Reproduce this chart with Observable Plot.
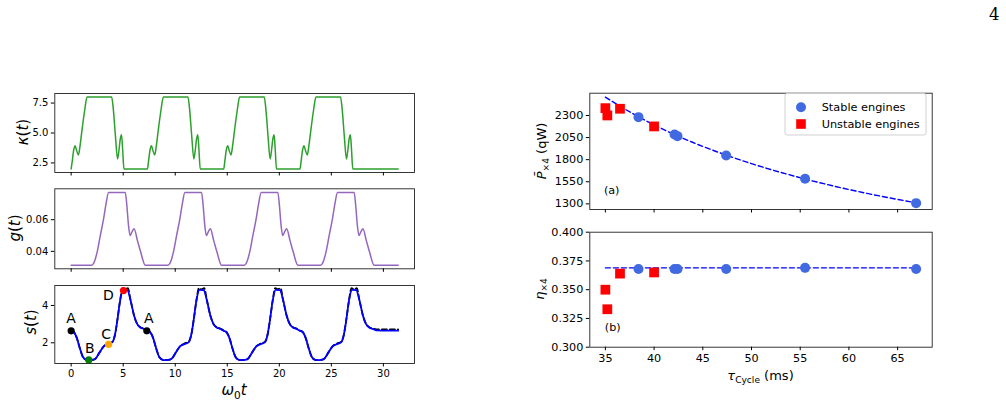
<!DOCTYPE html>
<html>
<head>
<meta charset="utf-8">
<script src="https://cdn.jsdelivr.net/npm/d3@7"></script>
<script src="https://cdn.jsdelivr.net/npm/@observablehq/plot@0.6"></script>
<style>
  body { margin: 0; background: #fff; }
  #fig { position: relative; width: 1006px; height: 404px; overflow: hidden; background: #fff; }
  #fig svg { position: absolute; overflow: visible; }
</style>
</head>
<body>
<div id="fig"></div>
<script>
// ---- control waveforms over four cycles (ω0 t from 0 to 10π) ----
const kappaT = [
  0, 0.10, 0.25, 0.38, 0.52, 0.70, 0.85, 1.05, 1.30, 1.53, 3.89, 4.05, 4.25, 4.46, 4.60, 4.72, 4.84, 4.95, 5.07,
  7.33, 7.43, 7.58, 7.71, 7.85, 8.03, 8.18, 8.38, 8.63, 8.86, 11.22, 11.38, 11.58, 11.79, 11.93, 12.05, 12.17, 12.28, 12.40,
  14.66, 14.76, 14.91, 15.04, 15.18, 15.36, 15.51, 15.71, 15.96, 16.19, 18.55, 18.71, 18.91, 19.12, 19.26, 19.38, 19.50, 19.61, 19.73,
  21.99, 22.09, 22.24, 22.37, 22.51, 22.69, 22.84, 23.04, 23.29, 23.52, 25.88, 26.04, 26.24, 26.45, 26.59, 26.71, 26.83, 26.94, 27.06,
  31.42
];
const kappaV = [
  2.0, 2.6, 3.6, 3.94, 3.55, 3.17, 3.9, 5.3, 6.9, 8.0, 8.0, 7.0, 4.8, 2.83, 3.6, 4.5, 4.86, 3.6, 2.0,
  2.0, 2.6, 3.6, 3.94, 3.55, 3.17, 3.9, 5.3, 6.9, 8.0, 8.0, 7.0, 4.8, 2.83, 3.6, 4.5, 4.86, 3.6, 2.0,
  2.0, 2.6, 3.6, 3.94, 3.55, 3.17, 3.9, 5.3, 6.9, 8.0, 8.0, 7.0, 4.8, 2.83, 3.6, 4.5, 4.86, 3.6, 2.0,
  2.0, 2.6, 3.6, 3.94, 3.55, 3.17, 3.9, 5.3, 6.9, 8.0, 8.0, 7.0, 4.8, 2.83, 3.6, 4.5, 4.86, 3.6, 2.0,
  2.0
];

const gT = [
  0, 1.98, 2.23, 2.49, 2.80, 3.12, 3.35, 3.60, 5.20, 5.35, 5.51, 5.67, 5.86, 6.05, 6.37, 6.69, 7.12,
  9.31, 9.56, 9.82, 10.13, 10.45, 10.68, 10.93, 12.53, 12.68, 12.84, 13.00, 13.19, 13.38, 13.70, 14.02, 14.45,
  16.64, 16.89, 17.15, 17.46, 17.78, 18.01, 18.26, 19.86, 20.01, 20.17, 20.33, 20.52, 20.71, 21.03, 21.35, 21.78,
  23.97, 24.22, 24.48, 24.79, 25.11, 25.34, 25.59, 27.19, 27.34, 27.50, 27.66, 27.85, 28.04, 28.36, 28.68, 29.11,
  31.42
];
const gV = [
  0.0313, 0.0313, 0.0334, 0.0394, 0.0500, 0.0606, 0.0700, 0.0772, 0.0772, 0.0691, 0.0564, 0.0500, 0.0525, 0.0543, 0.0468, 0.0394, 0.0313,
  0.0313, 0.0334, 0.0394, 0.0500, 0.0606, 0.0700, 0.0772, 0.0772, 0.0691, 0.0564, 0.0500, 0.0525, 0.0543, 0.0468, 0.0394, 0.0313,
  0.0313, 0.0334, 0.0394, 0.0500, 0.0606, 0.0700, 0.0772, 0.0772, 0.0691, 0.0564, 0.0500, 0.0525, 0.0543, 0.0468, 0.0394, 0.0313,
  0.0313, 0.0334, 0.0394, 0.0500, 0.0606, 0.0700, 0.0772, 0.0772, 0.0691, 0.0564, 0.0500, 0.0525, 0.0543, 0.0468, 0.0394, 0.0313,
  0.0313
];

// simulated state s(t) (solid) and target state (dashed)
const sT = [
  0, 0.25, 0.55, 0.85, 1.15, 1.45, 1.70, 2.00, 2.30, 2.75, 3.15, 3.55, 3.95, 4.20, 4.45, 4.70, 5.00, 5.40, 5.72, 6.05, 6.35, 6.65, 7.00,
  7.33, 7.58, 7.88, 8.18, 8.48, 8.78, 9.03, 9.33, 9.63, 10.08, 10.48, 10.88, 11.28, 11.53, 11.78, 12.03, 12.33, 12.73, 13.05, 13.38, 13.68, 13.98, 14.33,
  14.66, 14.91, 15.21, 15.51, 15.81, 16.11, 16.36, 16.66, 16.96, 17.41, 17.81, 18.21, 18.61, 18.86, 19.11, 19.36, 19.66, 20.06, 20.38, 20.71, 21.01, 21.31, 21.66,
  21.99, 22.24, 22.54, 22.84, 23.14, 23.44, 23.69, 23.99, 24.29, 24.74, 25.14, 25.54, 25.94, 26.19, 26.44, 26.69, 26.99, 27.39, 27.71, 28.04, 28.34, 28.64, 28.99,
  29.32, 30.40, 31.42
];
const sV = [
  2.64, 2.58, 2.25, 1.68, 1.22, 1.09, 1.07, 1.08, 1.13, 1.50, 1.82, 1.93, 2.02, 2.40, 3.25, 4.25, 4.84, 4.82, 4.25, 3.45, 3.00, 2.82, 2.74,
  2.64, 2.58, 2.25, 1.68, 1.22, 1.09, 1.07, 1.08, 1.13, 1.50, 1.82, 1.93, 2.02, 2.40, 3.25, 4.25, 4.84, 4.82, 4.25, 3.45, 3.00, 2.82, 2.74,
  2.64, 2.58, 2.25, 1.68, 1.22, 1.09, 1.07, 1.08, 1.13, 1.50, 1.82, 1.93, 2.02, 2.40, 3.25, 4.25, 4.84, 4.82, 4.25, 3.45, 3.00, 2.82, 2.74,
  2.64, 2.58, 2.25, 1.68, 1.22, 1.09, 1.07, 1.08, 1.13, 1.50, 1.82, 1.93, 2.02, 2.40, 3.25, 4.25, 4.84, 4.82, 4.25, 3.45, 3.00, 2.82, 2.74,
  2.66, 2.65, 2.65
];
const refT = [
  0, 0.25, 0.55, 0.85, 1.15, 1.45, 1.70, 2.00, 2.30, 2.75, 3.15, 3.55, 3.95, 4.20, 4.45, 4.70, 4.95, 5.20, 5.45, 5.72, 6.05, 6.35, 6.65, 7.00,
  7.33, 7.58, 7.88, 8.18, 8.48, 8.78, 9.03, 9.33, 9.63, 10.08, 10.48, 10.88, 11.28, 11.53, 11.78, 12.03, 12.28, 12.53, 12.78, 13.05, 13.38, 13.68, 13.98, 14.33,
  14.66, 14.91, 15.21, 15.51, 15.81, 16.11, 16.36, 16.66, 16.96, 17.41, 17.81, 18.21, 18.61, 18.86, 19.11, 19.36, 19.61, 19.86, 20.11, 20.38, 20.71, 21.01, 21.31, 21.66,
  21.99, 22.24, 22.54, 22.84, 23.14, 23.44, 23.69, 23.99, 24.29, 24.74, 25.14, 25.54, 25.94, 26.19, 26.44, 26.69, 26.94, 27.19, 27.44, 27.71, 28.04, 28.34, 28.64, 28.99,
  29.32, 30.40, 31.42
];
const refV = [
  2.66, 2.58, 2.25, 1.68, 1.22, 1.09, 1.07, 1.08, 1.13, 1.50, 1.82, 1.96, 2.05, 2.40, 3.25, 4.25, 4.93, 4.86, 4.93, 4.25, 3.45, 3.00, 2.84, 2.76,
  2.66, 2.58, 2.25, 1.68, 1.22, 1.09, 1.07, 1.08, 1.13, 1.50, 1.82, 1.96, 2.05, 2.40, 3.25, 4.25, 4.93, 4.86, 4.93, 4.25, 3.45, 3.00, 2.84, 2.76,
  2.66, 2.58, 2.25, 1.68, 1.22, 1.09, 1.07, 1.08, 1.13, 1.50, 1.82, 1.96, 2.05, 2.40, 3.25, 4.25, 4.93, 4.86, 4.93, 4.25, 3.45, 3.00, 2.84, 2.76,
  2.66, 2.58, 2.25, 1.68, 1.22, 1.09, 1.07, 1.08, 1.13, 1.50, 1.82, 1.96, 2.05, 2.40, 3.25, 4.25, 4.93, 4.86, 4.93, 4.25, 3.45, 3.00, 2.84, 2.76,
  2.72, 2.72, 2.72
];

// cycle stage markers
const stageNames = ["A", "B", "C", "D", "A"];
const stageT = [0, 1.69, 3.60, 5.03, 7.27];
const stageS = [2.64, 1.08, 1.92, 4.80, 2.64];
const stageColors = ["black", "green", "orange", "red", "black"];

const tTicks = [0, 5, 10, 15, 20, 25, 30];

// ---- engine performance vs cycle time ----
const stableTau = [38.4, 42.1, 42.4, 47.4, 55.5, 66.9];
const stablePower = [2281, 2085, 2066, 1848, 1584, 1308];
const stableEta = [0.368, 0.368, 0.368, 0.368, 0.369, 0.368];
const unstableTau = [35.0, 35.2, 36.5, 40.0];
const unstablePower = [2383, 2300, 2376, 2176];
const unstableEta = [0.350, 0.333, 0.364, 0.365];
const fitTau = [35, 38, 41, 44, 47, 50, 53, 56, 59, 62, 65, 67];
const fitPower = [2507, 2309, 2140, 1994, 1867, 1755, 1656, 1567, 1487, 1415, 1350, 1310];
const etaFitTau = [35, 67];
const etaFit = [0.369, 0.369];
const tauTicks = [35, 40, 45, 50, 55, 60, 65];
const powerTicks = [1300, 1550, 1800, 2050, 2300];
const etaTicks = [0.300, 0.325, 0.350, 0.375, 0.400];

const stableColor = "#4169e1";
const unstableColor = "#ff0000";

const fig = document.getElementById("fig");
const font = "DejaVu Sans, sans-serif";

function place(svg, left, top) {
  svg.style.position = "absolute";
  svg.style.left = left + "px";
  svg.style.top = top + "px";
  svg.style.overflow = "visible";
  fig.appendChild(svg);
  return svg;
}

// label with italic symbols and subscripts
function mathLabel(svg, x, y, parts, size, rotate = 0) {
  const text = d3.select(svg).append("text")
    .attr("transform", `translate(${x},${y}) rotate(${rotate})`)
    .attr("text-anchor", "middle")
    .attr("y", size * 0.35)
    .attr("font-family", font)
    .attr("font-size", size)
    .attr("fill", "black");
  let shift = 0;
  for (const p of parts) {
    const target = p.sub ? size * 0.25 : 0;
    const span = text.append("tspan").text(p.text).attr("dy", target - shift);
    shift = target;
    if (p.sub) span.attr("font-size", size * 0.7);
    if (p.italic) span.attr("font-style", "italic");
  }
}

function panelStyle(size) {
  return { fontFamily: font, fontSize: size + "px", color: "black", background: "transparent", overflow: "visible" };
}

function waveAxes(yTicks, yFmt, showX) {
  return [
    Plot.frame({ stroke: "#222", strokeWidth: 0.9 }),
    Plot.axisY({ ticks: yTicks, tickFormat: yFmt, tickSize: 3.5, tickPadding: 3, label: null }),
    Plot.axisX({ ticks: tTicks, tickFormat: showX ? d3.format("d") : () => "", tickSize: 3.5, tickPadding: 3, label: null })
  ];
}

const tDomain = [-1.571, 32.99];

// κ(t)
const pKappa = place(Plot.plot({
  width: 420, height: 95, marginLeft: 54.3, marginRight: 6, marginTop: 8, marginBottom: 8,
  style: panelStyle(10),
  x: { domain: tDomain }, y: { domain: [1.7, 8.3] },
  marks: [
    Plot.line(kappaT, { x: kappaT, y: kappaV, stroke: "#2ca02c", strokeWidth: 1.5, curve: "monotone-x" }),
    ...waveAxes([2.5, 5, 7.5], d3.format(".1f"), false)
  ]
}), 0, 85);
mathLabel(pKappa, 23, 47, [{ text: "κ", italic: true }, { text: "(" }, { text: "t", italic: true }, { text: ")" }], 15, -90);

// g(t)
const pG = place(Plot.plot({
  width: 420, height: 95, marginLeft: 54.3, marginRight: 6, marginTop: 8.3, marginBottom: 6.7,
  style: panelStyle(10),
  x: { domain: tDomain }, y: { domain: [0.029, 0.0795] },
  marks: [
    Plot.line(gT, { x: gT, y: gV, stroke: "#9467bd", strokeWidth: 1.5, curve: "monotone-x" }),
    ...waveAxes([0.04, 0.06], d3.format(".2f"), false)
  ]
}), 0, 180);
mathLabel(pG, 15, 48, [{ text: "g", italic: true }, { text: "(" }, { text: "t", italic: true }, { text: ")" }], 15, -90);

// s(t)
const labelShift = [[0, -12.5], [1, -11.5], [-2.5, -10], [-15, 5], [2, -12]];
const pS = place(Plot.plot({
  width: 420, height: 127, marginLeft: 54.3, marginRight: 6, marginTop: 8, marginBottom: 41,
  style: panelStyle(10),
  x: { domain: tDomain }, y: { domain: [0.89, 5.07] },
  marks: [
    Plot.line(refT, { x: refT, y: refV, stroke: "black", strokeWidth: 1.8, strokeDasharray: "5,3", curve: "monotone-x" }),
    Plot.line(sT, { x: sT, y: sV, stroke: "#0000ff", strokeWidth: 1.8, curve: "monotone-x" }),
    Plot.dot(stageT, { x: stageT, y: stageS, fill: stageColors, r: 3.6, stroke: "none" }),
    ...stageNames.map((name, i) => Plot.text([name], {
      x: [stageT[i]], y: [stageS[i]], text: [name],
      dx: labelShift[i][0], dy: labelShift[i][1], fontSize: 14, fill: "black"
    })),
    ...waveAxes([2, 4], d3.format("d"), true)
  ]
}), 0, 277);
mathLabel(pS, 31, 45, [{ text: "s", italic: true }, { text: "(" }, { text: "t", italic: true }, { text: ")" }], 15, -90);
mathLabel(pS, 234, 113, [{ text: "ω", italic: true }, { text: "0", sub: true }, { text: "t", italic: true }], 15);

// right column: power and efficiency vs cycle time
const tauDomain = [33.4, 68.55];
function perfAxes(yTicks, yFmt, showX) {
  return [
    Plot.frame({ stroke: "#222", strokeWidth: 0.9 }),
    Plot.axisY({ ticks: yTicks, tickFormat: yFmt, tickSize: 3.5, tickPadding: 3, label: null }),
    Plot.axisX({ ticks: tauTicks, tickFormat: showX ? d3.format("d") : () => "", tickSize: 3.5, tickPadding: 3, label: null })
  ];
}

const pPower = place(Plot.plot({
  width: 476, height: 130, marginLeft: 59.3, marginRight: 74.3, marginTop: 7.7, marginBottom: 6,
  style: panelStyle(11.2),
  x: { domain: tauDomain }, y: { domain: [1236, 2552] },
  marks: [
    Plot.line(fitTau, { x: fitTau, y: fitPower, stroke: "#0000ff", strokeWidth: 1.4, strokeDasharray: "5,3", curve: "monotone-x" }),
    Plot.dot(stableTau, { x: stableTau, y: stablePower, fill: stableColor, stroke: "none", r: 5 }),
    Plot.dot(unstableTau, { x: unstableTau, y: unstablePower, fill: unstableColor, stroke: "none", symbol: "square", r: 5.5 }),
    ...perfAxes(powerTicks, d3.format("d"), false)
  ]
}), 530, 85);
mathLabel(pPower, 11, 66, [{ text: "P\u0304", italic: true }, { text: "×4", sub: true }, { text: " (qW)" }], 13, -90);
d3.select(pPower).append("text").attr("x", 81.7).attr("y", 105).attr("dy", "0.35em")
  .attr("text-anchor", "middle").attr("font-family", font).attr("font-size", 11.2).text("(a)");

// legend
const lg = d3.select(pPower).append("g").attr("font-family", font).attr("font-size", 11.3)
  .attr("text-anchor", "start").attr("fill", "black");
lg.append("rect").attr("x", 255).attr("y", 8.3).attr("width", 141).attr("height", 41.7).attr("rx", 2.5)
  .attr("fill", "white").attr("fill-opacity", 0.8).attr("stroke", "#cccccc").attr("stroke-width", 0.9);
lg.append("circle").attr("cx", 271).attr("cy", 22.3).attr("r", 5).attr("fill", stableColor);
lg.append("rect").attr("x", 266.2).attr("y", 34.2).attr("width", 9.6).attr("height", 9.6).attr("fill", unstableColor);
lg.append("text").attr("x", 291.7).attr("y", 22.3).attr("dy", "0.35em").attr("text-anchor", "start").text("Stable engines");
lg.append("text").attr("x", 291.7).attr("y", 39).attr("dy", "0.35em").attr("text-anchor", "start").text("Unstable engines");

const pEta = place(Plot.plot({
  width: 476, height: 182, marginLeft: 59.3, marginRight: 74.3, marginTop: 9.7, marginBottom: 57.3,
  style: panelStyle(11.2),
  x: { domain: tauDomain }, y: { domain: [0.3, 0.4] },
  marks: [
    Plot.line(etaFitTau, { x: etaFitTau, y: etaFit, stroke: "#0000ff", strokeWidth: 1.4, strokeDasharray: "5,3" }),
    Plot.dot(stableTau, { x: stableTau, y: stableEta, fill: stableColor, stroke: "none", r: 5 }),
    Plot.dot(unstableTau, { x: unstableTau, y: unstableEta, fill: unstableColor, stroke: "none", symbol: "square", r: 5.5 }),
    ...perfAxes(etaTicks, d3.format(".3f"), true)
  ]
}), 530, 222);
mathLabel(pEta, 9, 67, [{ text: "η", italic: true }, { text: "×4", sub: true }], 13, -90);
mathLabel(pEta, 230.5, 153, [{ text: "τ", italic: true }, { text: "Cycle", sub: true }, { text: " (ms)" }], 13);
d3.select(pEta).append("text").attr("x", 82.7).attr("y", 104.7).attr("dy", "0.35em")
  .attr("text-anchor", "middle").attr("font-family", font).attr("font-size", 11.2).text("(b)");

// page number
const pageSvg = d3.select(fig).append("svg").attr("width", 30).attr("height", 30)
  .style("left", "980px").style("top", "0px");
pageSvg.append("text").attr("x", 9).attr("y", 20).attr("font-family", "DejaVu Serif, serif")
  .attr("font-size", 16.5).text("4");
</script>
</body>
</html>
